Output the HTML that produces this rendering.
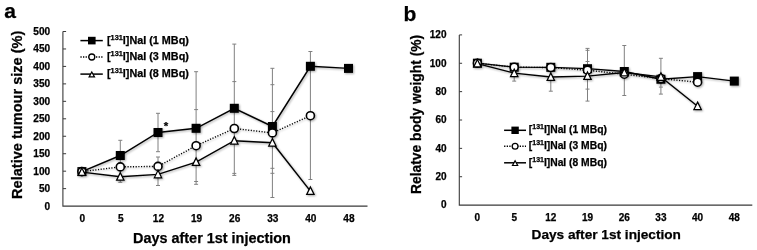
<!DOCTYPE html>
<html><head><meta charset="utf-8"><title>chart</title>
<style>html,body{margin:0;padding:0;background:#fff}svg{display:block}text{font-family:'Liberation Sans',sans-serif;font-weight:bold;fill:#000;stroke:#000;stroke-width:0.25px}</style>
</head><body>
<svg width="757" height="250" viewBox="0 0 757 250" style="opacity:0.999">
<defs><filter id="sh" x="-20%" y="-20%" width="140%" height="140%"><feGaussianBlur in="SourceAlpha" stdDeviation="0.8"/><feOffset dx="0.7" dy="0.8"/><feComponentTransfer><feFuncA type="linear" slope="0.35"/></feComponentTransfer><feMerge><feMergeNode/><feMergeNode in="SourceGraphic"/></feMerge></filter></defs>
<rect width="757" height="250" fill="#fff"/>

<text x="4.3" y="17.8" font-size="21">a</text>
<text x="403.5" y="21.2" font-size="21">b</text>
<path d="M62.9 31.5V206.1H367.5" stroke="#3a3a3a" stroke-width="1.1" fill="none"/>
<text x="50.2" y="209.6" font-size="10.1" text-anchor="end">0</text>
<text x="50.2" y="192.14" font-size="10.1" text-anchor="end">50</text>
<text x="50.2" y="174.68" font-size="10.1" text-anchor="end">100</text>
<text x="50.2" y="157.22" font-size="10.1" text-anchor="end">150</text>
<text x="50.2" y="139.76" font-size="10.1" text-anchor="end">200</text>
<text x="50.2" y="122.3" font-size="10.1" text-anchor="end">250</text>
<text x="50.2" y="104.84" font-size="10.1" text-anchor="end">300</text>
<text x="50.2" y="87.38" font-size="10.1" text-anchor="end">350</text>
<text x="50.2" y="69.92" font-size="10.1" text-anchor="end">400</text>
<text x="50.2" y="52.46" font-size="10.1" text-anchor="end">450</text>
<text x="50.2" y="35" font-size="10.1" text-anchor="end">500</text>
<path d="M62.9 188.64h3.2M62.9 171.18h3.2M62.9 153.72h3.2M62.9 136.26h3.2M62.9 118.8h3.2M62.9 101.34h3.2M62.9 83.88h3.2M62.9 66.42h3.2M62.9 48.96h3.2M62.9 31.5h3.2" stroke="#3a3a3a" stroke-width="1" fill="none"/>
<text x="82.3" y="222.1" font-size="10.1" text-anchor="middle">0</text>
<text x="120.7" y="222.1" font-size="10.1" text-anchor="middle">5</text>
<text x="158.4" y="222.1" font-size="10.1" text-anchor="middle">12</text>
<text x="196.5" y="222.1" font-size="10.1" text-anchor="middle">19</text>
<text x="234.7" y="222.1" font-size="10.1" text-anchor="middle">26</text>
<text x="272.8" y="222.1" font-size="10.1" text-anchor="middle">33</text>
<text x="310.8" y="222.1" font-size="10.1" text-anchor="middle">40</text>
<text x="348.9" y="222.1" font-size="10.1" text-anchor="middle">48</text>
<text x="133" y="242.8" font-size="14.43">Days after 1st injection</text>
<text transform="translate(21.6 198.9) rotate(-90)" font-size="14.57">Relative tumour size (%)</text>
<path d="M120.3 140.3V182.3M118.3 140.3H122.3M118.3 182.3H122.3" stroke="#808080" stroke-width="1" fill="none"/>
<path d="M158 113.3V151.7M156 113.3H160M156 151.7H160" stroke="#808080" stroke-width="1" fill="none"/>
<path d="M158 157V185.5M156 157H160M156 185.5H160" stroke="#808080" stroke-width="1" fill="none"/>
<path d="M196.1 71.7V184.3M194.1 71.7H198.1M194.1 109.6H198.1M194.1 181.5H198.1M194.1 184.3H198.1" stroke="#808080" stroke-width="1" fill="none"/>
<path d="M234.3 44.1V175.4M232.3 44.1H236.3M232.3 81.6H236.3M232.3 173.4H236.3M232.3 175.4H236.3" stroke="#808080" stroke-width="1" fill="none"/>
<path d="M272.4 68.3V197.5M270.4 68.3H274.4M270.4 84.7H274.4M270.4 111.6H274.4M270.4 168.3H274.4M270.4 173.3H274.4M270.4 197.5H274.4" stroke="#808080" stroke-width="1" fill="none"/>
<path d="M310.4 51.5V179.5M308.4 51.5H312.4M308.4 179.5H312.4" stroke="#808080" stroke-width="1" fill="none"/>
<text x="165.9" y="129.6" font-size="11.5" text-anchor="middle">*</text>
<g filter="url(#sh)">
<polyline points="81.9,171.6 120.3,155.5 158,132.5 196.1,128.3 234.3,108.3 272.4,126.5 310.4,66.3 348.5,68.4" fill="none" stroke="#000" stroke-width="1.45"/>
<rect x="77.4" y="167.1" width="9" height="9" fill="#000"/>
<rect x="115.8" y="151" width="9" height="9" fill="#000"/>
<rect x="153.5" y="128" width="9" height="9" fill="#000"/>
<rect x="191.6" y="123.8" width="9" height="9" fill="#000"/>
<rect x="229.8" y="103.8" width="9" height="9" fill="#000"/>
<rect x="267.9" y="122" width="9" height="9" fill="#000"/>
<rect x="305.9" y="61.8" width="9" height="9" fill="#000"/>
<rect x="344" y="63.9" width="9" height="9" fill="#000"/>
<polyline points="81.9,171.6 120.3,166.9 158,166.4 196.1,145.7 234.3,128.5 272.4,132.9 310.4,115.7" fill="none" stroke="#000" stroke-width="1.4" stroke-dasharray="1.15 1.55"/>
<circle cx="81.9" cy="171.6" r="4.0" fill="#fff" stroke="#000" stroke-width="1.6"/>
<circle cx="120.3" cy="166.9" r="4.0" fill="#fff" stroke="#000" stroke-width="1.6"/>
<circle cx="158" cy="166.4" r="4.0" fill="#fff" stroke="#000" stroke-width="1.6"/>
<circle cx="196.1" cy="145.7" r="4.0" fill="#fff" stroke="#000" stroke-width="1.6"/>
<circle cx="234.3" cy="128.5" r="4.0" fill="#fff" stroke="#000" stroke-width="1.6"/>
<circle cx="272.4" cy="132.9" r="4.0" fill="#fff" stroke="#000" stroke-width="1.6"/>
<circle cx="310.4" cy="115.7" r="4.0" fill="#fff" stroke="#000" stroke-width="1.6"/>
<polyline points="81.9,172.1 120.3,176.8 158,174.4 196.1,162.1 234.3,140.7 272.4,142.7 310.4,191.1" fill="none" stroke="#000" stroke-width="1.45"/>
<path d="M81.9 168.01L85.59 175.47L78.21 175.47Z" fill="#fff" stroke="#000" stroke-width="1.25" stroke-linejoin="miter" stroke-miterlimit="10"/>
<path d="M120.3 172.71L123.99 180.18L116.61 180.18Z" fill="#fff" stroke="#000" stroke-width="1.25" stroke-linejoin="miter" stroke-miterlimit="10"/>
<path d="M158 170.31L161.69 177.78L154.31 177.78Z" fill="#fff" stroke="#000" stroke-width="1.25" stroke-linejoin="miter" stroke-miterlimit="10"/>
<path d="M196.1 158.01L199.79 165.47L192.41 165.47Z" fill="#fff" stroke="#000" stroke-width="1.25" stroke-linejoin="miter" stroke-miterlimit="10"/>
<path d="M234.3 136.61L237.99 144.07L230.61 144.07Z" fill="#fff" stroke="#000" stroke-width="1.25" stroke-linejoin="miter" stroke-miterlimit="10"/>
<path d="M272.4 138.61L276.09 146.07L268.71 146.07Z" fill="#fff" stroke="#000" stroke-width="1.25" stroke-linejoin="miter" stroke-miterlimit="10"/>
<path d="M310.4 187.01L314.09 194.47L306.71 194.47Z" fill="#fff" stroke="#000" stroke-width="1.25" stroke-linejoin="miter" stroke-miterlimit="10"/>
</g>
<path d="M80.4 40.6H102.8" stroke="#000" stroke-width="1.5"/>
<rect x="88" y="36.8" width="7.6" height="7.6" fill="#000"/>
<text x="107" y="43.5" font-size="10.8">[<tspan font-size="7.34" dy="-3.89">131</tspan><tspan dy="3.89">I]NaI (1 MBq)</tspan></text>
<path d="M80.4 57H102.8" stroke="#000" stroke-width="1.5" stroke-dasharray="1.3 1.3"/>
<circle cx="91.8" cy="57" r="3.0" fill="#fff" stroke="#000" stroke-width="1.3"/>
<text x="107" y="59.9" font-size="10.8">[<tspan font-size="7.34" dy="-3.89">131</tspan><tspan dy="3.89">I]NaI (3 MBq)</tspan></text>
<path d="M80.4 74.1H102.8" stroke="#000" stroke-width="1.5"/>
<path d="M91.8 71.96L94.49 76.9L89.11 76.9Z" fill="#fff" stroke="#000" stroke-width="1.2" stroke-linejoin="miter" stroke-miterlimit="10"/>
<text x="107" y="77" font-size="10.8">[<tspan font-size="7.34" dy="-3.89">131</tspan><tspan dy="3.89">I]NaI (8 MBq)</tspan></text>
<path d="M459.3 34.9V205.1H752.3" stroke="#3a3a3a" stroke-width="1.1" fill="none"/>
<text x="446.5" y="208.4" font-size="10.0" text-anchor="end">0</text>
<text x="446.5" y="180.03" font-size="10.0" text-anchor="end">20</text>
<text x="446.5" y="151.67" font-size="10.0" text-anchor="end">40</text>
<text x="446.5" y="123.3" font-size="10.0" text-anchor="end">60</text>
<text x="446.5" y="94.93" font-size="10.0" text-anchor="end">80</text>
<text x="446.5" y="66.57" font-size="10.0" text-anchor="end">100</text>
<text x="446.5" y="38.2" font-size="10.0" text-anchor="end">120</text>
<path d="M459.3 176.73h2.8M459.3 148.37h2.8M459.3 120h2.8M459.3 91.63h2.8M459.3 63.27h2.8M459.3 34.9h2.8" stroke="#3a3a3a" stroke-width="1" fill="none"/>
<text x="477.4" y="220.8" font-size="10.0" text-anchor="middle">0</text>
<text x="514.2" y="220.8" font-size="10.0" text-anchor="middle">5</text>
<text x="550.8" y="220.8" font-size="10.0" text-anchor="middle">12</text>
<text x="587.5" y="220.8" font-size="10.0" text-anchor="middle">19</text>
<text x="624.3" y="220.8" font-size="10.0" text-anchor="middle">26</text>
<text x="660.9" y="220.8" font-size="10.0" text-anchor="middle">33</text>
<text x="697.6" y="220.8" font-size="10.0" text-anchor="middle">40</text>
<text x="734.3" y="220.8" font-size="10.0" text-anchor="middle">48</text>
<text x="531.6" y="239.1" font-size="13.65">Days after 1st injection</text>
<text transform="translate(420.7 194.0) rotate(-90)" font-size="13.85">Relatve body weight (%)</text>
<path d="M514.2 68V81.1M512.2 81.1H516.2" stroke="#808080" stroke-width="1" fill="none"/>
<path d="M550.8 68V91.2M548.8 91.2H552.8" stroke="#808080" stroke-width="1" fill="none"/>
<path d="M587.5 48.4V101.1M585.5 48.4H589.5M585.5 50.3H589.5M585.5 61.5H589.5M585.5 89.1H589.5M585.5 101.1H589.5" stroke="#808080" stroke-width="1" fill="none"/>
<path d="M624.3 45.5V95.5M622.3 45.5H626.3M622.3 95.5H626.3" stroke="#808080" stroke-width="1" fill="none"/>
<path d="M660.9 58.3V94.1M658.9 58.3H662.9M658.9 87.1H662.9M658.9 94.1H662.9" stroke="#808080" stroke-width="1" fill="none"/>
<g filter="url(#sh)">
<polyline points="477.4,63.2 514.2,67.2 550.8,67.3 587.5,68.7 624.3,71.5 660.9,79.25 697.6,76.6 734.3,81.1" fill="none" stroke="#000" stroke-width="1.3"/>
<rect x="472.9" y="58.7" width="9" height="9" fill="#000"/>
<rect x="509.7" y="62.7" width="9" height="9" fill="#000"/>
<rect x="546.3" y="62.8" width="9" height="9" fill="#000"/>
<rect x="583" y="64.2" width="9" height="9" fill="#000"/>
<rect x="619.8" y="67" width="9" height="9" fill="#000"/>
<rect x="656.4" y="74.75" width="9" height="9" fill="#000"/>
<rect x="693.1" y="72.1" width="9" height="9" fill="#000"/>
<rect x="729.8" y="76.6" width="9" height="9" fill="#000"/>
<polyline points="477.4,63.2 514.2,67.2 550.8,67.5 587.5,70.2 624.3,74.2 660.9,78.6 697.6,82.2" fill="none" stroke="#000" stroke-width="1.4" stroke-dasharray="1.15 1.55"/>
<circle cx="477.4" cy="63.2" r="4.0" fill="#fff" stroke="#000" stroke-width="1.6"/>
<circle cx="514.2" cy="67.2" r="4.0" fill="#fff" stroke="#000" stroke-width="1.6"/>
<circle cx="550.8" cy="67.5" r="4.0" fill="#fff" stroke="#000" stroke-width="1.6"/>
<circle cx="587.5" cy="70.2" r="4.0" fill="#fff" stroke="#000" stroke-width="1.6"/>
<circle cx="624.3" cy="74.2" r="4.0" fill="#fff" stroke="#000" stroke-width="1.6"/>
<circle cx="660.9" cy="78.6" r="4.0" fill="#fff" stroke="#000" stroke-width="1.6"/>
<circle cx="697.6" cy="82.2" r="4.0" fill="#fff" stroke="#000" stroke-width="1.6"/>
<polyline points="477.4,63.6 514.2,73.2 550.8,77 587.5,76.1 624.3,72.5 660.9,76.9 697.6,106.2" fill="none" stroke="#000" stroke-width="1.3"/>
<path d="M477.4 59.51L481.09 66.97L473.71 66.97Z" fill="#fff" stroke="#000" stroke-width="1.25" stroke-linejoin="miter" stroke-miterlimit="10"/>
<path d="M514.2 69.11L517.89 76.58L510.51 76.58Z" fill="#fff" stroke="#000" stroke-width="1.25" stroke-linejoin="miter" stroke-miterlimit="10"/>
<path d="M550.8 72.91L554.49 80.38L547.11 80.38Z" fill="#fff" stroke="#000" stroke-width="1.25" stroke-linejoin="miter" stroke-miterlimit="10"/>
<path d="M587.5 72.01L591.19 79.47L583.81 79.47Z" fill="#fff" stroke="#000" stroke-width="1.25" stroke-linejoin="miter" stroke-miterlimit="10"/>
<path d="M624.3 68.41L627.99 75.88L620.61 75.88Z" fill="#fff" stroke="#000" stroke-width="1.25" stroke-linejoin="miter" stroke-miterlimit="10"/>
<path d="M660.9 72.81L664.59 80.28L657.21 80.28Z" fill="#fff" stroke="#000" stroke-width="1.25" stroke-linejoin="miter" stroke-miterlimit="10"/>
<path d="M697.6 102.11L701.29 109.58L693.91 109.58Z" fill="#fff" stroke="#000" stroke-width="1.25" stroke-linejoin="miter" stroke-miterlimit="10"/>
</g>
<path d="M504.1 130.3H526" stroke="#000" stroke-width="1.5"/>
<rect x="511.4" y="126.6" width="7.4" height="7.4" fill="#000"/>
<text x="528.8" y="133.1" font-size="10.3">[<tspan font-size="7" dy="-3.71">131</tspan><tspan dy="3.71">I]NaI (1 MBq)</tspan></text>
<path d="M504.1 146.3H526" stroke="#000" stroke-width="1.5" stroke-dasharray="1.3 1.3"/>
<circle cx="515.1" cy="146.3" r="2.9" fill="#fff" stroke="#000" stroke-width="1.3"/>
<text x="528.8" y="149.1" font-size="10.3">[<tspan font-size="7" dy="-3.71">131</tspan><tspan dy="3.71">I]NaI (3 MBq)</tspan></text>
<path d="M504.1 162.8H526" stroke="#000" stroke-width="1.5"/>
<path d="M515.1 160.75L517.69 165.5L512.51 165.5Z" fill="#fff" stroke="#000" stroke-width="1.2" stroke-linejoin="miter" stroke-miterlimit="10"/>
<text x="528.8" y="165.6" font-size="10.3">[<tspan font-size="7" dy="-3.71">131</tspan><tspan dy="3.71">I]NaI (8 MBq)</tspan></text>
</svg></body></html>
